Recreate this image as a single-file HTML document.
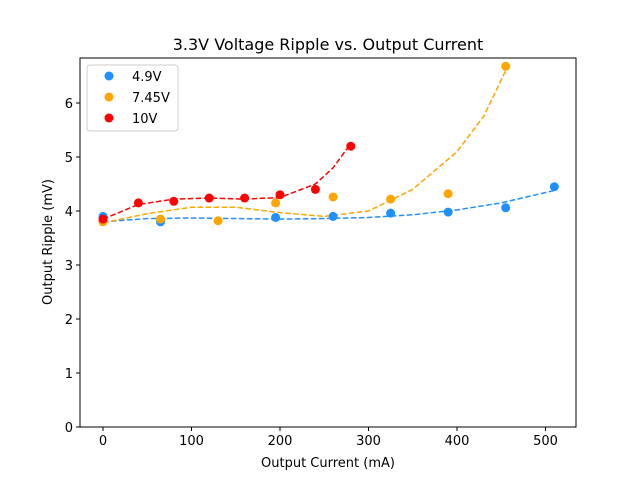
<!DOCTYPE html>
<html><head><meta charset="utf-8"><style>
body{margin:0;background:#fff;}
svg{display:block;font-family:"DejaVu Sans","Liberation Sans",sans-serif;}
</style></head><body>
<svg id="chart" width="640" height="480"></svg>
<script>
const xTicks=[0,100,200,300,400,500];
const yTicks=[0,1,2,3,4,5,6];
const seriesNames=["4.9V","7.45V","10V"];
const seriesColors=["#1e90ff","#ffa500","#ff0000"];
const x49=[0,65,195,260,325,390,455,510];
const y49=[3.9,3.8,3.88,3.9,3.96,3.98,4.06,4.45];
const x745=[0,65,130,195,260,325,390,455];
const y745=[3.8,3.85,3.82,4.15,4.26,4.22,4.32,6.68];
const x10=[0,40,80,120,160,200,240,280];
const y10=[3.85,4.15,4.18,4.24,4.24,4.3,4.4,5.2];
const fx49=[0,50,100,150,200,250,300,350,400,450,510];
const fy49=[3.8,3.86,3.87,3.86,3.85,3.86,3.88,3.93,4.02,4.15,4.38];
const fx745=[0,50,100,150,200,250,300,350,400,430,455];
const fy745=[3.78,3.95,4.07,4.07,3.97,3.9,4.0,4.4,5.1,5.75,6.6];
const fx10=[0,40,80,120,160,200,240,260,280];
const fy10=[3.85,4.12,4.22,4.24,4.22,4.25,4.5,4.8,5.25];

const L=80,R=576,T=58,B=427;
const X=v=>103+v*0.885;
const Y=v=>427-v*54;
const NS="http://www.w3.org/2000/svg";
const svg=document.getElementById('chart');
function mk(tag,attrs,parent){const e=document.createElementNS(NS,tag);for(const k in attrs)e.setAttribute(k,attrs[k]);(parent||svg).appendChild(e);return e;}

const title=mk('text',{x:328,y:50,'text-anchor':'middle','font-size':16});
title.textContent="3.3V Voltage Ripple vs. Output Current";



xTicks.forEach(t=>{
  const l=mk('line',{x1:X(t),x2:X(t),y1:B,y2:B+4,stroke:'#000'});
  
  
  const tx=mk('text',{x:X(t),y:B+18,'text-anchor':'middle','font-size':13});
  tx.textContent=t;
  
  
});
yTicks.forEach(t=>{
  const l=mk('line',{x1:L-4,x2:L,y1:Y(t),y2:Y(t),stroke:'#000'});
  
  
  const tx=mk('text',{x:L-7,y:Y(t)+5,'text-anchor':'end','font-size':13});
  tx.textContent=t;
  
  
});
const xl=mk('text',{x:328,y:467,'text-anchor':'middle','font-size':13});
xl.textContent="Output Current (mA)";


const yl=mk('text',{x:0,y:0,'text-anchor':'middle','font-size':13,transform:'translate(52,242) rotate(-90)'});
yl.textContent="Output Ripple (mV)";



const fits=[[fx49,fy49],[fx745,fy745],[fx10,fy10]];
const pts=[[x49,y49],[x745,y745],[x10,y10]];
fits.forEach((f,i)=>{
  const d=f[0].map((v,j)=>(j?'L':'M')+X(v)+','+Y(f[1][j])).join(' ');
  const p=mk('path',{d:d,fill:'none',stroke:seriesColors[i],'stroke-width':1.5,'stroke-dasharray':'5.5,2.5'});
  
  
});
pts.forEach((s,i)=>{
  s[0].forEach((v,j)=>{
    const c=mk('circle',{cx:X(v),cy:Y(s[1][j]),r:4.5,fill:seriesColors[i]});
    
    
  });
});
const frame=mk('rect',{x:L,y:T,width:R-L,height:B-T,fill:'none',stroke:'#000','stroke-width':1});



const lg=mk('rect',{x:87,y:65,width:91,height:66,rx:3,fill:'#fff',stroke:'#ccc'});


seriesNames.forEach((n,i)=>{
  const y=76+i*21;
  const c=mk('circle',{cx:109,cy:y,r:4.5,fill:seriesColors[i]});
  
  
  const t=mk('text',{x:132,y:y+5,'font-size':13});
  t.textContent=n;
  
  
});
</script>
</body></html>
